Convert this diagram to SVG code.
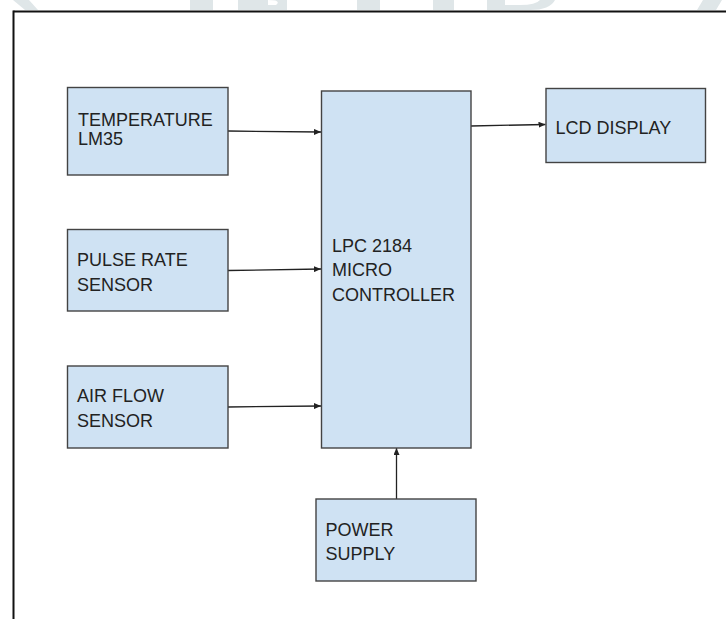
<svg xmlns="http://www.w3.org/2000/svg" width="726" height="619" viewBox="0 0 726 619">
  <style>
    .box { fill: #cfe2f3; stroke: #434343; stroke-width: 1.4; }
    .lbl { font-family: "Liberation Sans", Arial, sans-serif; font-size: 18px; fill: #222222; }
    .conn { stroke: #222222; stroke-width: 1.3; fill: none; marker-end: url(#arrow); }
    .wm { fill: #dfe6e8; }
  </style>
  <defs>
    <marker id="arrow" markerUnits="userSpaceOnUse" markerWidth="8" markerHeight="6" refX="7" refY="3" orient="auto">
      <path d="M0,0 L7,3 L0,6 Z" fill="#222222"/>
    </marker>
  </defs>
  <rect x="0" y="0" width="726" height="619" fill="#ffffff"/>
  <g id="watermark">
    <polygon class="wm" points="13,0 29,0 38,10 25,10"/>
    <rect class="wm" x="190" y="0" width="23" height="10"/>
    <path class="wm" d="M238,0 H287 V10 H238 Z M268,0 Q282,0 276,5 L268,5 Z" fill-rule="evenodd"/>
    <rect class="wm" x="357" y="0" width="23" height="10"/>
    <rect class="wm" x="433" y="0" width="21" height="10"/>
    <path class="wm" d="M487,0 H555 Q550,10 530,10 H487 Z M505,0 H540 Q536,5 520,5 H505 Z" fill-rule="evenodd"/>
    <polygon class="wm" points="703,0 722,0 716,10 697,10"/>
  </g>
  <g id="frame">
    <line x1="13.5" y1="11.5" x2="726" y2="11.5" stroke="#111111" stroke-width="2"/>
    <line x1="13.5" y1="10.5" x2="13.5" y2="619" stroke="#111111" stroke-width="2"/>
  </g>
  <g id="connectors">
    <line class="conn" x1="228" y1="131" x2="321" y2="132"/>
    <line class="conn" x1="228" y1="270.5" x2="321" y2="269"/>
    <line class="conn" x1="228" y1="407" x2="321" y2="406"/>
    <line class="conn" x1="471" y1="126" x2="545.5" y2="124.5"/>
    <line class="conn" x1="396.5" y1="499" x2="396.5" y2="448"/>
  </g>
  <g id="temperature">
    <rect class="box" x="67.5" y="87.5" width="160.5" height="87.5"/>
    <text class="lbl" x="78" y="125.5">TEMPERATURE</text>
    <text class="lbl" x="78" y="145">LM35</text>
  </g>
  <g id="pulse">
    <rect class="box" x="67.5" y="229.5" width="160.5" height="81.5"/>
    <text class="lbl" x="77" y="266">PULSE RATE</text>
    <text class="lbl" x="77" y="291">SENSOR</text>
  </g>
  <g id="airflow">
    <rect class="box" x="67.5" y="366" width="160.5" height="82"/>
    <text class="lbl" x="77" y="401.5">AIR FLOW</text>
    <text class="lbl" x="77" y="426.5">SENSOR</text>
  </g>
  <g id="mcu">
    <rect class="box" x="321.5" y="91" width="149.5" height="357"/>
    <text class="lbl" x="332" y="251.5">LPC 2184</text>
    <text class="lbl" x="332" y="276">MICRO</text>
    <text class="lbl" x="332" y="301">CONTROLLER</text>
  </g>
  <g id="lcd">
    <rect class="box" x="546" y="88.5" width="159.5" height="74"/>
    <text class="lbl" x="555.5" y="133.5">LCD DISPLAY</text>
  </g>
  <g id="power">
    <rect class="box" x="316" y="499" width="160" height="82"/>
    <text class="lbl" x="325.5" y="535.5">POWER</text>
    <text class="lbl" x="325.5" y="560">SUPPLY</text>
  </g>
</svg>
